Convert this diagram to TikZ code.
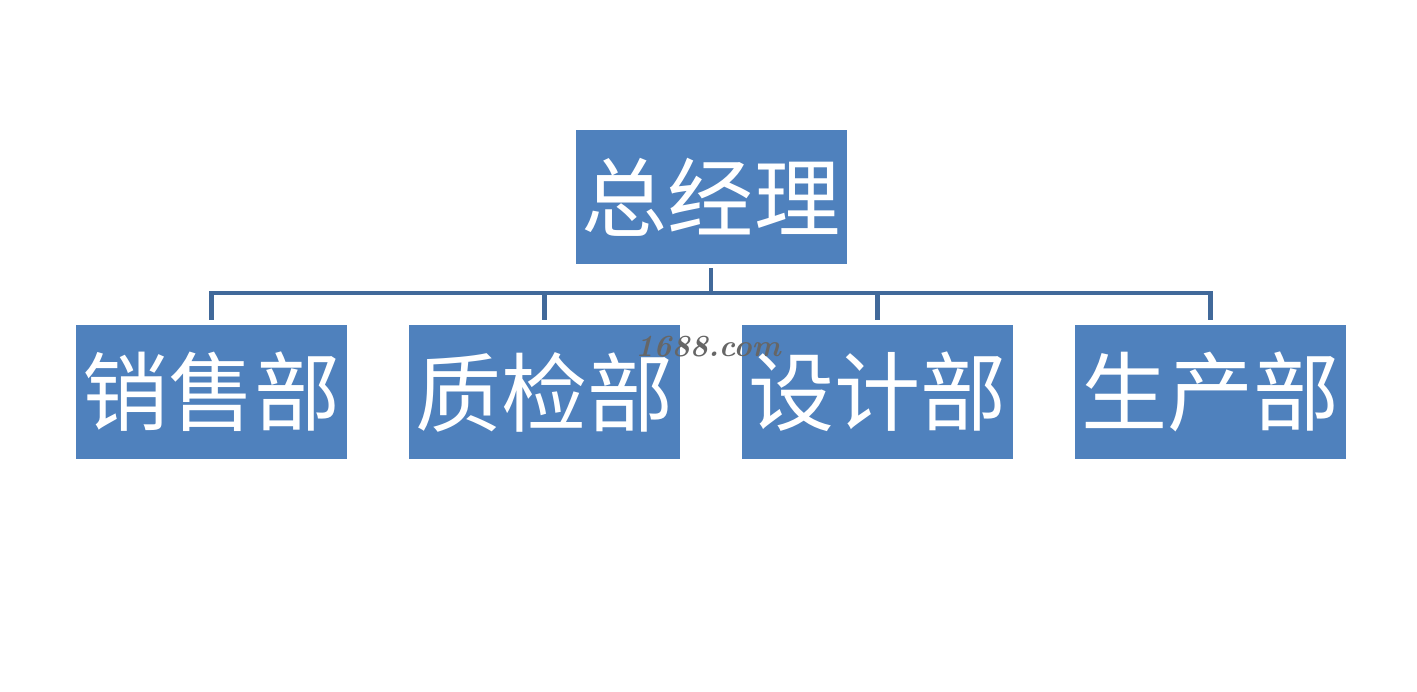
\documentclass[tikz,border=0pt]{standalone}
\usepackage{fontspec}
\newfontfamily\cjk{Noto Sans CJK SC}
\usetikzlibrary{positioning}
\definecolor{boxblue}{HTML}{4F81BD}
\definecolor{linkblue}{HTML}{41699A}
\tikzset{
  dept/.style={draw=none, fill=boxblue, text=white, minimum width=5.42cm,
    minimum height=2.68cm, inner sep=0pt, font=\cjk\fontsize{49}{52}\selectfont},
  conn/.style={linkblue, line width=2.4pt}
}

\begin{document}
\begin{tikzpicture}
  % 画布
  \useasboundingbox (0,0) rectangle (28.34,13.82);
  
  % 总经理
  \node[dept] (gm) at (14.22,9.88) {总经理};
  
  % 各部门
  \node[dept] (sale) at (4.23,5.98) {销售部};
  \node[dept] (qc) at (10.89,5.98) {质检部};
  \node[dept] (design) at (17.55,5.98) {设计部};
  \node[dept] (prod) at (24.21,5.98) {生产部};
  
  % 连线
  \coordinate (bus) at (0,7.96);
  \draw[conn, shorten <=0.08cm] (gm.south) -- (gm.south |- bus);
  \draw[conn, shorten <=0.1cm, shorten >=0.1cm] (sale.north) -- (sale.north |- bus)
    -- (prod.north |- bus) -- (prod.north);
  \draw[conn, shorten >=0.1cm] (qc.north |- bus) -- (qc.north);
  \draw[conn, shorten >=0.1cm] (design.north |- bus) -- (design.north);
  
  % 水印（与原图一样压在方框上）
  \node[text=black!60, inner sep=0pt, font=\bfseries\itshape\fontsize{17.5}{20}\selectfont] (mark) at (14.16,6.88) {1688.com};
\end{tikzpicture}
\end{document}
